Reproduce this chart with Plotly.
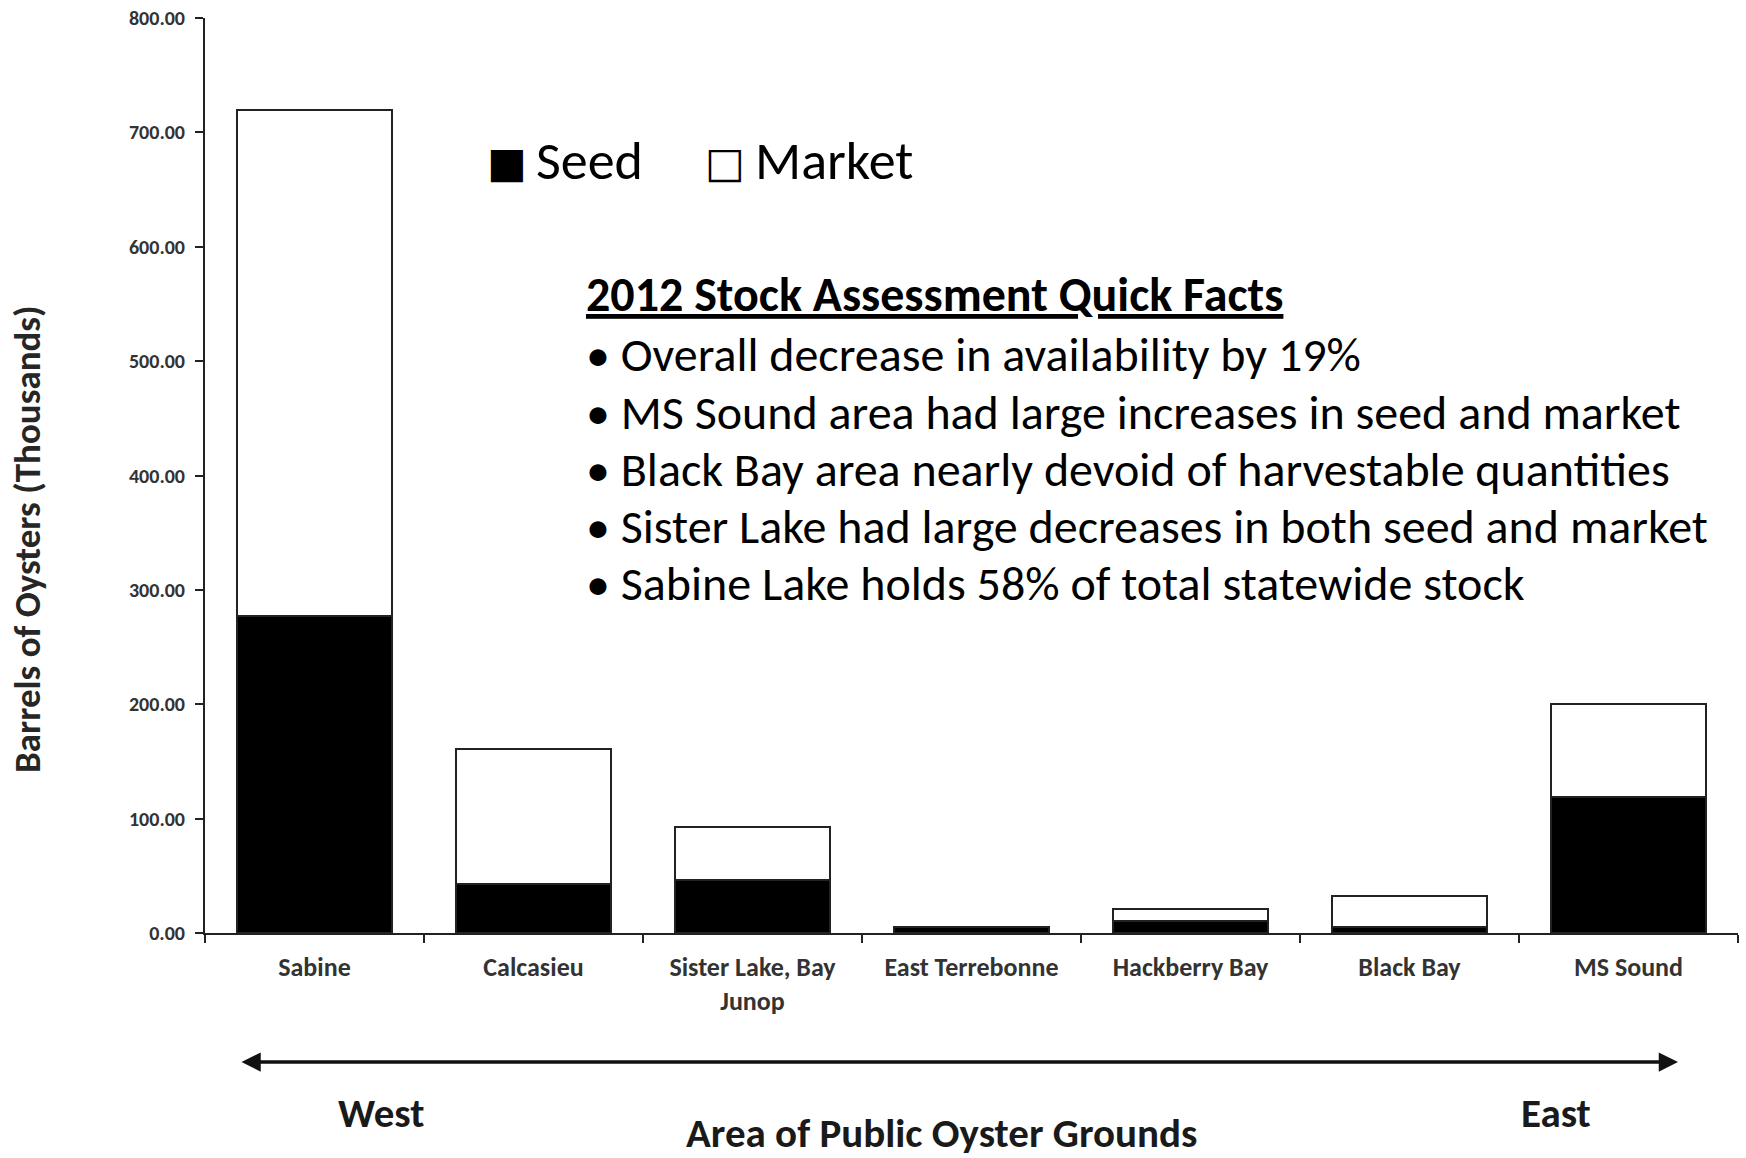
import plotly.graph_objects as go

areas = ["Sabine", "Calcasieu", "Sister Lake, Bay<br>Junop", "East Terrebonne",
         "Hackberry Bay", "Black Bay", "MS Sound"]
seed = [277.5, 43.0, 46.5, 5.0, 10.5, 5.0, 118.5]
market = [442.5, 117.5, 46.0, 0.0, 10.5, 27.0, 82.0]

facts_title = "2012 Stock Assessment Quick Facts"
facts = [
    "Overall decrease in availability by 19%",
    "MS Sound area had large increases in seed and market",
    "Black Bay area nearly devoid of harvestable quantities",
    "Sister Lake had large decreases in both seed and market",
    "Sabine Lake holds 58% of total statewide stock",
]

W, H = 1746, 1158
# plot area in page pixels
PL, PR, PT, PB = 205, 1738, 18, 933
L, R, T, B = PL, W - PR, PT, H - PB
PW, PH = PR - PL, PB - PT

def px(x):
    return (x - PL) / PW

def py(y):
    return (PB - y) / PH

FONT = "Carlito, Calibri, Lato, sans-serif"

fig = go.Figure()
fig.add_trace(go.Bar(x=areas, y=seed, name="Seed",
                     marker=dict(color="black", line=dict(color="#222", width=2))))
fig.add_trace(go.Bar(x=areas, y=market, name="Market",
                     marker=dict(color="white", line=dict(color="#222", width=2))))

ann = []
# legend (text style like reference)
ann.append(dict(x=px(485), y=py(162), xref="paper", yref="paper", text="■", showarrow=False,
                xanchor="left", yanchor="middle", font=dict(family="DejaVu Sans", size=42, color="black")))
ann.append(dict(x=px(534), y=py(161), xref="paper", yref="paper", text="Seed", showarrow=False,
                xanchor="left", yanchor="middle", font=dict(family=FONT, size=54, color="black")))
ann.append(dict(x=px(703), y=py(162), xref="paper", yref="paper", text="□", showarrow=False,
                xanchor="left", yanchor="middle", font=dict(family="DejaVu Sans", size=42, color="black")))
ann.append(dict(x=px(753), y=py(161), xref="paper", yref="paper", text="Market", showarrow=False,
                xanchor="left", yanchor="middle", font=dict(family=FONT, size=54, color="black")))

# facts text
ann.append(dict(x=px(584), y=py(294), xref="paper", yref="paper", text="<b><u>" + facts_title + "</u></b>",
                showarrow=False, xanchor="left", yanchor="middle", font=dict(family=FONT, size=48, color="black")))
ys = [354, 412, 469, 526, 584]
for t, yy in zip(facts, ys):
    ann.append(dict(x=px(584), y=py(yy), xref="paper", yref="paper", text="• " + t,
                    showarrow=False, xanchor="left", yanchor="middle",
                    font=dict(family=FONT, size=48, color="black")))

# axis titles and direction labels
ann.append(dict(x=px(27), y=py(539), xref="paper", yref="paper", text="<b>Barrels of Oysters (Thousands)</b>",
                showarrow=False, textangle=-90, xanchor="center", yanchor="middle", borderpad=0,
                font=dict(family=FONT, size=37, color="#262626")))
ann.append(dict(x=px(941), y=py(1133), xref="paper", yref="paper", text="<b>Area of Public Oyster Grounds</b>",
                showarrow=False, xanchor="center", yanchor="middle", borderpad=0,
                font=dict(family=FONT, size=41, color="#1a1a1a")))
ann.append(dict(x=px(381), y=py(1113), xref="paper", yref="paper", text="<b>West</b>",
                showarrow=False, xanchor="center", yanchor="middle",
                font=dict(family=FONT, size=41, color="#1a1a1a")))
ann.append(dict(x=px(1556), y=py(1113), xref="paper", yref="paper", text="<b>East</b>",
                showarrow=False, xanchor="center", yanchor="middle",
                font=dict(family=FONT, size=41, color="#1a1a1a")))
# double headed arrow
ann.append(dict(x=px(1678), y=py(1062), ax=240 - 1678, ay=0, xref="paper", yref="paper",
                axref="pixel", ayref="pixel", text="", showarrow=True, arrowside="end+start",
                arrowhead=2, arrowsize=1.1, arrowwidth=3.5, arrowcolor="#111"))

fig.update_layout(
    width=W, height=H,
    margin=dict(l=L, r=R, t=T, b=B, autoexpand=False),
    barmode="stack", bargap=0.29,
    plot_bgcolor="white", paper_bgcolor="white",
    showlegend=False,
    annotations=ann,
    font=dict(family=FONT, color="#333"),
    xaxis=dict(showgrid=False, showline=True, linecolor="#222", linewidth=2,
               ticks="outside", tickson="boundaries", ticklen=8, tickwidth=2, tickcolor="#222",
               tickprefix="<b>", ticksuffix="</b>",
               tickfont=dict(family=FONT, size=26, color="#333"), ticklabelstandoff=10),
    yaxis=dict(range=[0, 800], dtick=100, tickformat=".2f", showgrid=False, showline=True,
               linecolor="#222", linewidth=2, ticks="outside", ticklen=8, tickwidth=2, tickcolor="#222",
               tickprefix="<b>", ticksuffix="</b>", ticklabelstandoff=6, ticklabeloverflow="allow",
               tickfont=dict(family=FONT, size=20, color="#333"), zeroline=False),
)
fig.write_html("out.html", config={"displayModeBar": False},
               post_script="document.body.style.margin='0px';")
